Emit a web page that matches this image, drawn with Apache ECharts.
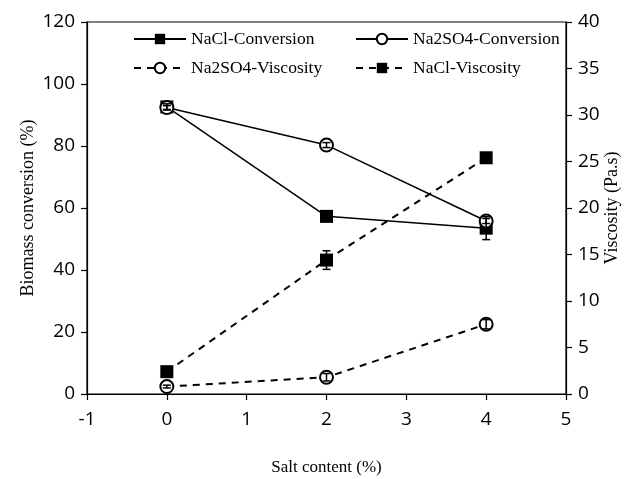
<!DOCTYPE html>
<html><head><meta charset="utf-8">
<script src="https://cdn.jsdelivr.net/npm/echarts@6/dist/echarts.min.js"></script>
<style>html,body{margin:0;padding:0;background:#fff}#c{width:639px;height:479px}</style>
</head><body><div id="c"></div>
<script>
const saltContent = [0, 2, 4];
const naclConversion = [92.6, 57.3, 53.5];
const naclConversionErr = [1.0, 1.0, 3.7];
const na2so4Conversion = [92.4, 80.3, 55.8];
const na2so4ConversionErr = [0.6, 0.8, 0.8];
const na2so4Viscosity = [0.8, 1.8, 7.5];
const na2so4ViscosityErr = [0.15, 0.4, 0.5];
const naclViscosity = [2.4, 14.4, 25.4];
const naclViscosityErr = [0.3, 1.0, 0.3];

const serif = 'Liberation Serif';
const sans = 'Open Sans';

function pairs(ys){ return saltContent.map((x,i)=>[x, ys[i]]); }
function errData(ys, es){ return saltContent.map((x,i)=>[x, ys[i], es[i]]); }

function errSeries(ys, es, yAxisIndex){
  return {
    type:'custom', yAxisIndex, z:10, silent:true,
    data: errData(ys, es),
    renderItem(params, api){
      const x = api.value(0), y = api.value(1), e = api.value(2);
      const top = api.coord([x, y+e]);
      const bot = api.coord([x, y-e]);
      const cw = 4;
      const st = {stroke:'#000', lineWidth:1.5};
      return {type:'group', children:[
        {type:'line', shape:{x1:top[0], y1:top[1], x2:bot[0], y2:bot[1]}, style:st},
        {type:'line', shape:{x1:top[0]-cw, y1:top[1], x2:top[0]+cw, y2:top[1]}, style:st},
        {type:'line', shape:{x1:bot[0]-cw, y1:bot[1], x2:bot[0]+cw, y2:bot[1]}, style:st}
      ]};
    }
  };
}

function lineSeries(name, ys, yAxisIndex, symbol, dashed){
  return {
    name, type:'line', yAxisIndex, data: pairs(ys),
    symbol, symbolSize: 13, showSymbol:true,
    lineStyle:{color:'#000', width: dashed?2:1.5, type: dashed?[7,6]:'solid'},
    itemStyle:{color:'#000', borderColor:'#000', borderWidth: symbol==='emptyCircle'?1.8:0},
    z: 5, animation:false
  };
}

const legendText = {color:'#000', fontFamily:serif, fontSize:17.5};
function lg(name, left, top){
  return {data:[name], left, top, itemWidth:52, itemHeight:13, itemGap:0,
    textStyle:legendText, padding:0, selectedMode:false};
}

const axisCommon = {
  nameMoveOverlap:false,
  axisLine:{show:true, onZero:false, lineStyle:{color:'#000', width:1.2}},
  axisTick:{show:true, length:6, lineStyle:{color:'#000', width:1.2}},
  splitLine:{show:false}
};

const chart = echarts.init(document.getElementById('c'));
chart.setOption({
  animation:false,
  backgroundColor:'#fff',
  grid:{left:87, right:73, top:22, bottom:85, show:true, borderColor:'#000', borderWidth:1.2,
        containLabel:false, outerBoundsMode:'none'},
  legend:[
    lg('NaCl-Conversion', 133, 30),
    lg('Na2SO4-Conversion', 355, 30),
    lg('Na2SO4-Viscosity', 133, 59),
    lg('NaCl-Viscosity', 355, 59)
  ],
  xAxis:Object.assign({
    type:'value', min:-1, max:5, interval:1,
    name:'Salt content (%)', nameLocation:'middle', nameGap:65,
    nameTextStyle:{fontFamily:serif, fontSize:17, color:'#000'},
    axisLabel:{margin:16, fontFamily:sans, fontSize:19, color:'#000'}
  }, axisCommon),
  yAxis:[
    Object.assign({
      type:'value', min:0, max:120, interval:20,
      name:'Biomass conversion (%)', nameLocation:'middle', nameGap:50, nameRotate:90,
      nameTextStyle:{fontFamily:serif, fontSize:18, color:'#000'},
      axisLabel:{margin:12, fontFamily:sans, fontSize:19, color:'#000'}
    }, axisCommon),
    Object.assign({
      type:'value', min:0, max:40, interval:5, position:'right',
      name:'Viscosity (Pa.s)', nameLocation:'middle', nameGap:37, nameRotate:90,
      nameTextStyle:{fontFamily:serif, fontSize:18, color:'#000'},
      axisLabel:{margin:12, fontFamily:sans, fontSize:19, color:'#000'}
    }, axisCommon)
  ],
  series:[
    lineSeries('NaCl-Conversion', naclConversion, 0, 'rect', false),
    lineSeries('Na2SO4-Conversion', na2so4Conversion, 0, 'emptyCircle', false),
    lineSeries('Na2SO4-Viscosity', na2so4Viscosity, 1, 'emptyCircle', true),
    lineSeries('NaCl-Viscosity', naclViscosity, 1, 'rect', true),
    errSeries(naclConversion, naclConversionErr, 0),
    errSeries(na2so4Conversion, na2so4ConversionErr, 0),
    errSeries(na2so4Viscosity, na2so4ViscosityErr, 1),
    errSeries(naclViscosity, naclViscosityErr, 1)
  ]
});
</script></body></html>
